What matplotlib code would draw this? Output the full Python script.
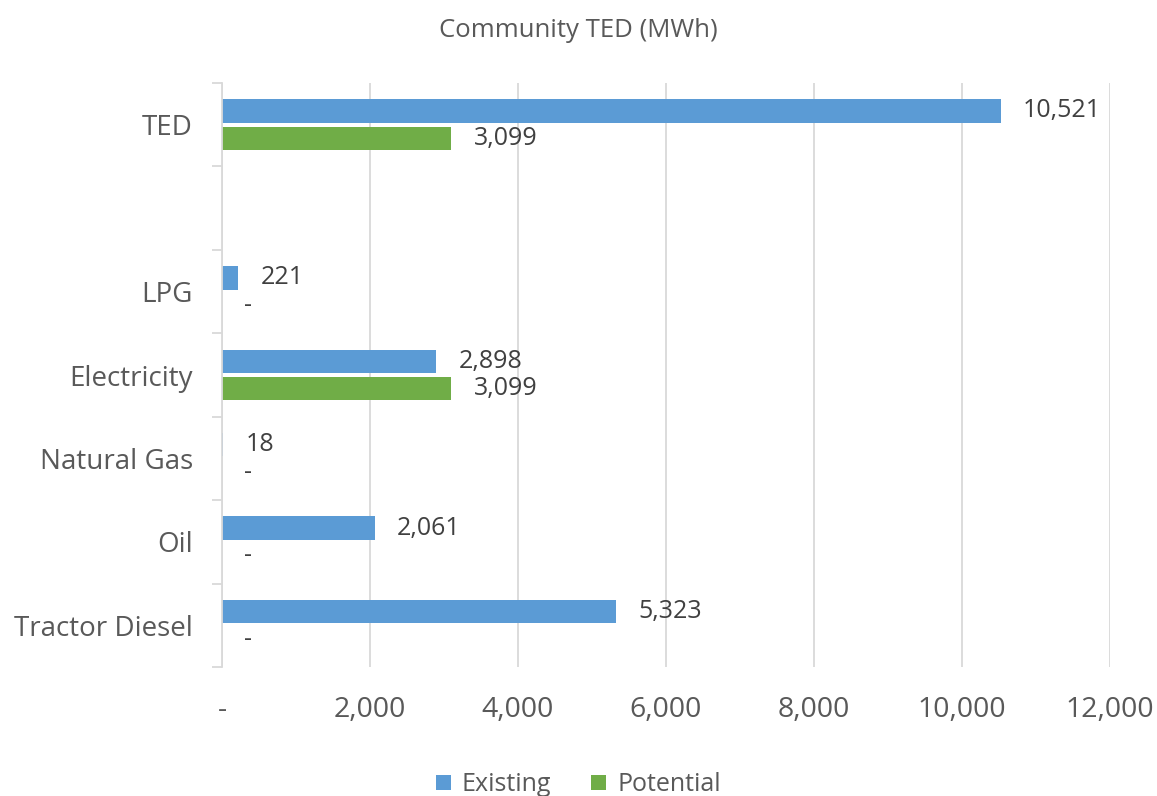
import numpy as np
import matplotlib
matplotlib.use("Agg")
import matplotlib.pyplot as plt
from matplotlib.ticker import FuncFormatter, FixedLocator

plt.rcParams['font.family'] = ['Open Sans', 'DejaVu Sans']

categories = ["TED", "", "LPG", "Electricity", "Natural Gas", "Oil", "Tractor Diesel"]
existing = [10521, np.nan, 221, 2898, 18, 2061, 5323]
potential = [3099, np.nan, 0, 3099, 0, 0, 0]
series_names = ["Existing", "Potential"]
x_ticks = [0, 2000, 4000, 6000, 8000, 10000, 12000]

blue = "#5B9BD5"
green = "#70AD47"
grid_c = "#D9D9D9"
tick_c = "#595959"
label_c = "#404040"

fig = plt.figure(figsize=(11.57, 7.96), dpi=100)
ax = fig.add_axes([0.1919, 0.162, 0.7675, 0.7337])

y = np.arange(len(categories))
h = 0.28
off = 0.165
ex_vals = np.nan_to_num(existing)
po_vals = np.nan_to_num(potential)
b1 = ax.barh(y - off, ex_vals, height=h, color=blue, label=series_names[0])
b2 = ax.barh(y + off, po_vals, height=h, color=green, label=series_names[1])

def fmt_val(v):
    return "-" if v == 0 else f"{v:,.0f}"

for vals, offs in ((existing, -off), (potential, off)):
    for yi, v in zip(y, vals):
        if np.isnan(v):
            continue
        ax.annotate(fmt_val(v), xy=(v, yi + offs), xytext=(16, 0),
                    textcoords="offset points", va="center", ha="left",
                    fontsize=18, color=label_c)

ax.set_xlim(0, 12000)
ax.set_ylim(len(categories) - 0.5, -0.5)
ax.xaxis.set_major_locator(FixedLocator(x_ticks))
ax.xaxis.set_major_formatter(FuncFormatter(lambda v, p: "-" if v == 0 else f"{v:,.0f}"))
ax.grid(axis="x", color=grid_c, linewidth=1.3)
ax.set_axisbelow(True)

ax.set_yticks(y)
ax.set_yticklabels(categories)
ax.set_yticks(np.arange(len(categories) + 1) - 0.5, minor=True)
ax.tick_params(axis="y", which="major", length=0, pad=21, labelsize=20, labelcolor=tick_c)
ax.tick_params(axis="y", which="minor", length=7, width=1.3, color=grid_c)
ax.tick_params(axis="x", length=0, pad=21, labelsize=20.5, labelcolor=tick_c)

for s in ("top", "right", "bottom"):
    ax.spines[s].set_visible(False)
ax.spines["left"].set_color(grid_c)
ax.spines["left"].set_linewidth(1.3)

fig.text(0.5, 0.962, "Community TED (MWh)", ha="center", va="center",
         fontsize=18.5, color=tick_c)

fig.legend(handles=[b1, b2], labels=series_names, loc="center",
           bbox_to_anchor=(0.5, 0.014), ncol=2, frameon=False,
           fontsize=18, labelcolor=tick_c, handlelength=0.6, handleheight=0.6,
           handletextpad=0.45, columnspacing=1.6)

fig.savefig("out.png", dpi=100)
